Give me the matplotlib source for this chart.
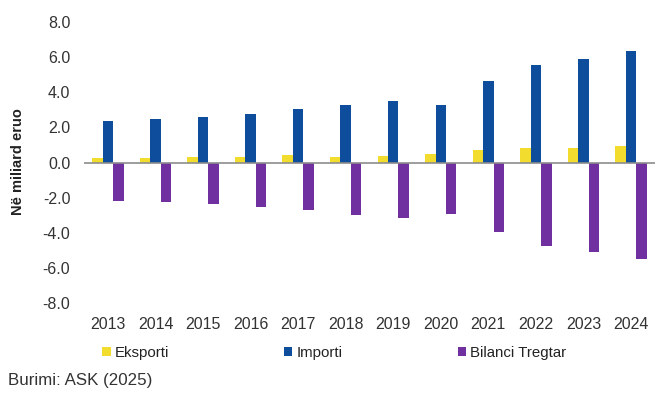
import matplotlib
matplotlib.use("Agg")
import matplotlib.pyplot as plt
import numpy as np

plt.rcParams.update({
    'font.family': ['Liberation Sans', 'DejaVu Sans'],
    'font.size': 12,
})

years = ['2013', '2014', '2015', '2016', '2017', '2018',
         '2019', '2020', '2021', '2022', '2023', '2024']
eksporti = [0.28, 0.28, 0.30, 0.30, 0.42, 0.30, 0.40, 0.50, 0.73, 0.84, 0.84, 0.95]
importi = [2.36, 2.50, 2.59, 2.76, 3.03, 3.30, 3.49, 3.30, 4.67, 5.58, 5.87, 6.33]
bilanci = [-2.17, -2.27, -2.34, -2.53, -2.72, -2.99, -3.18, -2.91, -3.98, -4.74, -5.10, -5.47]

series_names = ['Eksporti', 'Importi', 'Bilanci Tregtar']
colors = ['#F2DC2E', '#0E4D9C', '#7030A0']
yticks = [-8, -6, -4, -2, 0, 2, 4, 6, 8]

fig = plt.figure(figsize=(6.58, 3.94), dpi=100)
ax = fig.add_axes([0.128, 0.231, 0.867, 0.713])

x = np.arange(len(years))
w = 0.22
handles = []
for i, (vals, name, c) in enumerate(zip([eksporti, importi, bilanci], series_names, colors)):
    h = ax.bar(x + (i - 1) * w, vals, width=w, color=c, label=name, zorder=2)
    handles.append(h)

ax.axhline(0, color='#8c8c8c', lw=1.2, zorder=3)
ax.set_xlim(-0.5, len(years) - 0.5)
ax.set_ylim(-8, 8)
ax.set_yticks(yticks)
ax.set_yticklabels([f'{v:.1f}' for v in yticks])
ax.set_xticks(x)
ax.set_xticklabels(years)
ax.tick_params(axis='both', length=0, colors='#333333', labelsize=11.5)
ax.tick_params(axis='x', pad=10)
ax.tick_params(axis='y', pad=10)
for s in ax.spines.values():
    s.set_visible(False)

fig.text(0.027, 0.59, 'Në miliard eruo', rotation=90, fontsize=10.5,
         fontweight='bold', color='#222222', ha='center', va='center')

fig.legend(handles, series_names, loc='center left', bbox_to_anchor=(0.135, 0.104),
           ncol=3, frameon=False, fontsize=10.8, handlelength=0.55, handleheight=0.55,
           handletextpad=0.25, columnspacing=7.7, labelcolor='#222222')

fig.text(0.012, 0.035, 'Burimi: ASK (2025)', fontsize=12.2, color='#333333',
         ha='left', va='center')

fig.savefig('out.png', dpi=100)
